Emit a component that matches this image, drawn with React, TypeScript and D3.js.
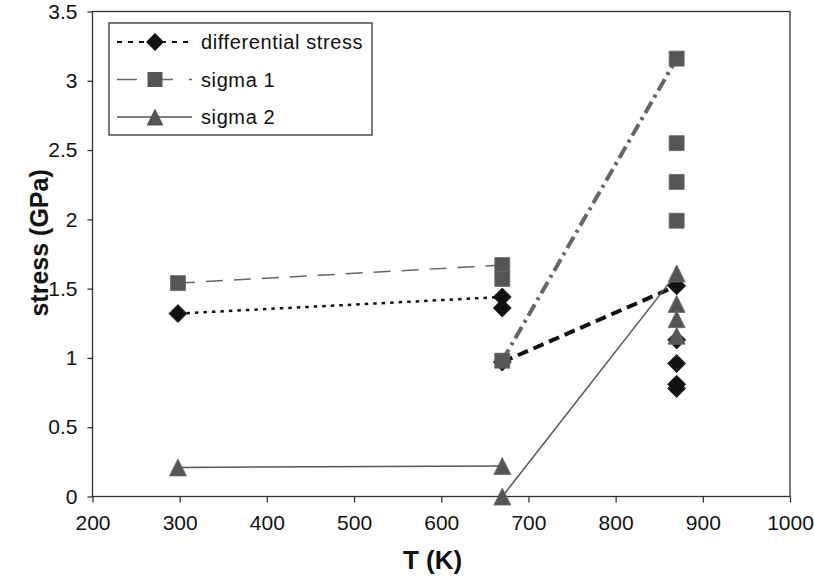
import * as d3 from "d3";
import React, { useEffect, useRef } from "react";

// temperatures (K) and stresses (GPa)
const diffT = [298, 670, 670, 670, 870, 870, 870, 870, 870];
const diffStress = [1.32, 1.44, 1.36, 0.97, 1.52, 1.13, 0.96, 0.81, 0.78];

const sigma1T = [298, 670, 670, 670, 870, 870, 870, 870];
const sigma1 = [1.54, 1.67, 1.57, 0.98, 3.16, 2.55, 2.27, 1.99];

const sigma2T = [298, 670, 670, 870, 870, 870, 870];
const sigma2 = [0.21, 0.22, 0.0, 1.61, 1.39, 1.28, 1.16];

// which points are joined by a line (index pairs)
const diffSegments = [[0, 1], [3, 4]];
const sigma1Segments = [[0, 1], [3, 4]];
const sigma2Segments = [[0, 1], [2, 3]];

const xTicks = [200, 300, 400, 500, 600, 700, 800, 900, 1000];
const yTicks = [0, 0.5, 1, 1.5, 2, 2.5, 3, 3.5];
const legendLabels = ["differential stress", "sigma 1", "sigma 2"];

const FONT = "'Liberation Sans', Arial, Helvetica, sans-serif";

const diamond = "M0,-9L9,0L0,9L-9,0Z";
const square = "M-7.5,-7.5H7.5V7.5H-7.5Z";
const triangle = "M0,-8.5L8.5,8.5L-8.5,8.5Z";

const App = () => {
  const width = 814;
  const height = 580;
  const margin = { left: 92.5, top: 11.5, right: 24, bottom: 83.5 };
  const chartWidth = width - margin.left - margin.right;
  const chartHeight = height - margin.top - margin.bottom;

  const ref = useRef(null);

  useEffect(() => {
    const svg = d3.select(ref.current);
    svg.selectAll("*").remove();

    const x = d3.scaleLinear().domain([200, 1000]).range([0, chartWidth]);
    const y = d3.scaleLinear().domain([0, 3.5]).range([chartHeight, 0]);

    const g = svg
      .append("g")
      .attr("transform", `translate(${margin.left} ${margin.top})`);

    // axes
    const yAxisG = g
      .append("g")
      .call(
        d3
          .axisLeft(y)
          .tickValues(yTicks)
          .tickSize(5)
          .tickPadding(10)
          .tickFormat((d) => `${d}`)
      );
    const xAxisG = g
      .append("g")
      .attr("transform", `translate(0, ${chartHeight})`)
      .call(
        d3
          .axisBottom(x)
          .tickValues(xTicks)
          .tickSize(6)
          .tickPadding(13)
          .tickFormat((d) => `${d}`)
      );
    [yAxisG, xAxisG].forEach((a) => {
      a.select(".domain").remove();
      a.selectAll("line").attr("stroke", "#333").attr("stroke-width", 1.3);
      a.selectAll("text")
        .attr("fill", "#111")
        .style("font-family", FONT)
        .style("font-size", "21px");
    });

    // plot frame
    g.append("rect")
      .attr("width", chartWidth)
      .attr("height", chartHeight)
      .attr("fill", "none")
      .attr("stroke", "#333")
      .attr("stroke-width", 1.3);

    const drawSegments = (ts, vs, segs, styles) => {
      segs.forEach(([a, b], i) => {
        const s = styles[i];
        g.append("line")
          .attr("x1", x(ts[a]))
          .attr("y1", y(vs[a]))
          .attr("x2", x(ts[b]))
          .attr("y2", y(vs[b]))
          .attr("stroke", s.color)
          .attr("stroke-width", s.width)
          .attr("stroke-dasharray", s.dash);
      });
    };

    drawSegments(diffT, diffStress, diffSegments, [
      { color: "#111", width: 2.5, dash: "3.5 5" },
      { color: "#111", width: 4, dash: "11 6" },
    ]);
    drawSegments(sigma1T, sigma1, sigma1Segments, [
      { color: "#666", width: 1.5, dash: "17 11" },
      { color: "#666", width: 4, dash: "13 5 3 5" },
    ]);
    drawSegments(sigma2T, sigma2, sigma2Segments, [
      { color: "#555", width: 1.5, dash: null },
      { color: "#555", width: 1.5, dash: null },
    ]);

    const drawMarkers = (ts, vs, path, color) => {
      g.append("g")
        .selectAll("path")
        .data(ts)
        .join("path")
        .attr("d", path)
        .attr("transform", (d, i) => `translate(${x(d)} ${y(vs[i])})`)
        .attr("fill", color)
        .attr("stroke", color === "#111" ? "#111" : "#6a6a6a")
        .attr("stroke-width", 0.8);
    };

    drawMarkers(diffT, diffStress, diamond, "#111");
    drawMarkers(sigma1T, sigma1, square, "#555");
    drawMarkers(sigma2T, sigma2, triangle, "#555");

    // axis titles
    svg
      .append("text")
      .attr("transform", `translate(48 ${margin.top + y(1.83)}) rotate(-90)`)
      .attr("text-anchor", "middle")
      .style("font-family", FONT)
      .style("font-size", "25px")
      .style("font-weight", "bold")
      .attr("fill", "#111")
      .text("stress (GPa)");

    svg
      .append("text")
      .attr("x", margin.left + x(590))
      .attr("y", 569)
      .attr("text-anchor", "middle")
      .style("font-family", FONT)
      .style("font-size", "26px")
      .style("font-weight", "bold")
      .attr("fill", "#111")
      .text("T (K)");

    // legend
    const legend = svg.append("g").attr("transform", "translate(109 23)");
    legend
      .append("rect")
      .attr("width", 263)
      .attr("height", 112)
      .attr("fill", "#fff")
      .attr("stroke", "#333")
      .attr("stroke-width", 1.3);

    const legendStyles = [
      { color: "#111", width: 2, dash: "5 6", path: diamond, fill: "#111" },
      { color: "#666", width: 1.5, dash: "20 16", path: square, fill: "#555" },
      { color: "#555", width: 1.5, dash: null, path: triangle, fill: "#555" },
    ];

    legendLabels.forEach((label, i) => {
      const s = legendStyles[i];
      const row = legend
        .append("g")
        .attr("transform", `translate(0 ${19 + i * 37.5})`);
      row
        .append("line")
        .attr("x1", 8)
        .attr("x2", 83)
        .attr("stroke", s.color)
        .attr("stroke-width", s.width)
        .attr("stroke-dasharray", s.dash);
      row
        .append("path")
        .attr("d", s.path)
        .attr("transform", "translate(46 0)")
        .attr("fill", s.fill);
      row
        .append("text")
        .attr("x", 92)
        .attr("dy", "0.36em")
        .style("font-family", FONT)
        .style("font-size", "20px")
        .style("letter-spacing", "0.6px")
        .attr("fill", "#111")
        .text(label);
    });
  }, []);

  return (
    <svg
      ref={ref}
      width={width}
      height={height}
      style={{ position: "absolute", left: 0, top: 0, background: "#fff" }}
    ></svg>
  );
};

export default App;
